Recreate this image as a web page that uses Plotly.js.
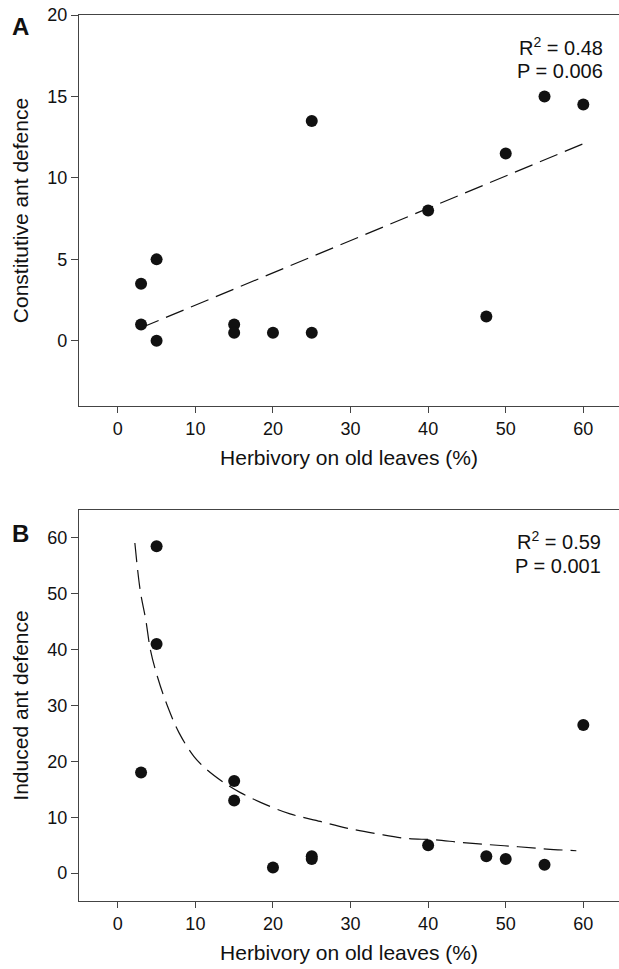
<!DOCTYPE html>
<html>
<head>
<meta charset="utf-8">
<script src="https://cdn.plot.ly/plotly-3.0.1.min.js"></script>
<style>
html,body{margin:0;padding:0;background:#fff;}
#chart{width:619px;height:969px;}
</style>
</head>
<body>
<div id="chart"></div>
<script>
// Panel A: constitutive ant defence
const herbA = [3, 3, 5, 5, 15, 15, 20, 25, 25, 40, 47.5, 50, 55, 60];
const constitutive = [3.5, 1, 5, 0, 1, 0.5, 0.5, 13.5, 0.5, 8, 1.5, 11.5, 15, 14.5];
const fitAx = [3, 60];
const fitAy = [0.8, 12.1];

// Panel B: induced ant defence
const herbB = [3, 5, 5, 15, 15, 20, 25, 25, 40, 47.5, 50, 55, 60];
const induced = [18, 58.5, 41, 16.5, 13, 1, 3, 2.5, 5, 3, 2.5, 1.5, 26.5];
const fitBx = [2.2, 2.9, 3.6, 4.2, 5.1, 6.4, 7.9, 9.8, 11.5, 14.1, 15.8, 18.4, 22.2, 26.1, 29.5, 33.4, 37.2, 40.7, 44.3, 48.0, 51.6, 55.3, 59.1];
const fitBy = [59.1, 50.5, 45.4, 40.0, 35.2, 29.9, 25.1, 20.9, 18.5, 15.8, 14.4, 12.65, 10.6, 9.25, 8.06, 7.04, 6.2, 5.97, 5.48, 5.07, 4.71, 4.30, 4.0];

const xTicks = [0, 10, 20, 30, 40, 50, 60];
const yTicksA = [0, 5, 10, 15, 20];
const yTicksB = [0, 10, 20, 30, 40, 50, 60];

const FONT = 'Liberation Sans, Arial, Helvetica, sans-serif';
const dashStyle = '19px,8px';
const markerStyle = {size: 12, color: '#111111', line: {width: 0}};

const traces = [
  {x: fitAx, y: fitAy, xaxis: 'x', yaxis: 'y', mode: 'lines', line: {color: '#111', width: 1.2, dash: dashStyle}, hoverinfo: 'skip'},
  {x: herbA, y: constitutive, xaxis: 'x', yaxis: 'y', mode: 'markers', marker: markerStyle},
  {x: fitBx, y: fitBy, xaxis: 'x2', yaxis: 'y2', mode: 'lines', line: {color: '#111', width: 1.2, dash: dashStyle, shape: 'spline'}, hoverinfo: 'skip'},
  {x: herbB, y: induced, xaxis: 'x2', yaxis: 'y2', mode: 'markers', marker: markerStyle}
];

const axisCommon = {
  showgrid: false, zeroline: false, showline: true, linecolor: '#444', linewidth: 1.2,
  ticks: 'outside', tickcolor: '#444', tickwidth: 1,
  tickfont: {family: FONT, size: 18, color: '#111'}
};

const layout = {
  width: 619, height: 969,
  margin: {l: 79, r: 0, t: 15, b: 68},
  paper_bgcolor: '#fff', plot_bgcolor: '#fff',
  showlegend: false,
  font: {family: FONT, color: '#111'},
  xaxis: Object.assign({}, axisCommon, {
    anchor: 'y', range: [-5, 64.6], tickvals: xTicks, ticklen: 6, mirror: true,
    title: {text: 'Herbivory on old leaves (%)', font: {family: FONT, size: 21, color: '#111'}, standoff: 12}
  }),
  yaxis: Object.assign({}, axisCommon, {
    anchor: 'x', domain: [0.5587, 1], range: [-4, 20], tickvals: yTicksA, ticklen: 7,
    title: {text: 'Constitutive ant defence', font: {family: FONT, size: 21, color: '#111'}, standoff: 12}
  }),
  xaxis2: Object.assign({}, axisCommon, {
    anchor: 'y2', range: [-5, 64.6], tickvals: xTicks, ticklen: 6, mirror: true,
    title: {text: 'Herbivory on old leaves (%)', font: {family: FONT, size: 21, color: '#111'}, standoff: 12}
  }),
  yaxis2: Object.assign({}, axisCommon, {
    anchor: 'x2', domain: [0, 0.4413], range: [-5, 65], tickvals: yTicksB, ticklen: 7,
    title: {text: 'Induced ant defence', font: {family: FONT, size: 21, color: '#111'}, standoff: 12}
  }),
  annotations: [
    {xref: 'paper', yref: 'paper', x: -0.1085, y: 0.9874, xanchor: 'center', yanchor: 'middle', text: '<b>A</b>', showarrow: false, font: {family: FONT, size: 24, color: '#111'}},
    {xref: 'paper', yref: 'paper', x: -0.1085, y: 0.4147, xanchor: 'center', yanchor: 'middle', text: '<b>B</b>', showarrow: false, font: {family: FONT, size: 24, color: '#111'}},
    {xref: 'x', yref: 'y', x: 62.8, y: 18.05, xanchor: 'right', yanchor: 'middle', text: 'R<sup>2</sup> = 0.48', showarrow: false, font: {family: FONT, size: 20, color: '#111'}},
    {xref: 'x', yref: 'y', x: 62.8, y: 16.55, xanchor: 'right', yanchor: 'middle', text: 'P = 0.006', showarrow: false, font: {family: FONT, size: 20, color: '#111'}},
    {xref: 'x2', yref: 'y2', x: 62.5, y: 59.6, xanchor: 'right', yanchor: 'middle', text: 'R<sup>2</sup> = 0.59', showarrow: false, font: {family: FONT, size: 20, color: '#111'}},
    {xref: 'x2', yref: 'y2', x: 62.5, y: 55.0, xanchor: 'right', yanchor: 'middle', text: 'P = 0.001', showarrow: false, font: {family: FONT, size: 20, color: '#111'}}
  ]
};

Plotly.newPlot('chart', traces, layout, {displayModeBar: false, staticPlot: true});
</script>
</body>
</html>
